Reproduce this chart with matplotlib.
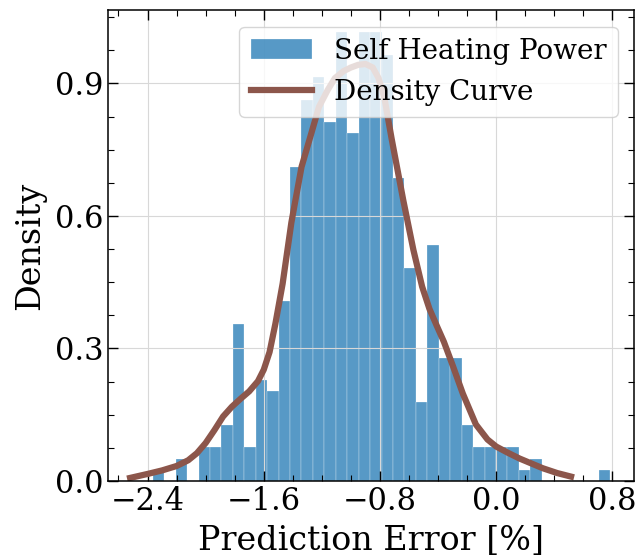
import numpy as np
import matplotlib.pyplot as plt
from matplotlib.ticker import MultipleLocator

plt.rcParams["font.family"] = "DejaVu Serif"

# histogram: 40 bins, counts (500 samples)
bin_edges = np.linspace(-2.364, 0.786, 41)
counts = [1, 0, 2, 0, 3, 3, 5, 14, 3, 9,
          8, 16, 28, 34, 36, 32, 40, 31, 40, 40,
          38, 27, 19, 7, 21, 11, 11, 5, 3, 3,
          3, 3, 1, 2, 0, 0, 0, 0, 0, 1]
bin_centers = (bin_edges[:-1] + bin_edges[1:]) / 2

# density curve points
curve_x = [-2.52, -2.40, -2.30, -2.20, -2.12, -2.06, -2.00, -1.94, -1.88, -1.82,
           -1.76, -1.70, -1.64, -1.60, -1.56, -1.52, -1.47, -1.41, -1.34, -1.27,
           -1.22, -1.16, -1.11, -1.05, -1.00, -0.95, -0.90, -0.85, -0.81, -0.77,
           -0.72, -0.64, -0.57, -0.51, -0.46, -0.41, -0.36, -0.30, -0.23, -0.14,
           -0.06, 0.00, 0.08, 0.16, 0.24, 0.32, 0.42, 0.515]
curve_y = [0.007, 0.016, 0.024, 0.034, 0.047, 0.063, 0.086, 0.115, 0.146, 0.168,
           0.186, 0.203, 0.226, 0.252, 0.292, 0.356, 0.447, 0.585, 0.711, 0.790,
           0.847, 0.885, 0.912, 0.928, 0.936, 0.942, 0.944, 0.936, 0.912, 0.868,
           0.775, 0.636, 0.523, 0.440, 0.390, 0.352, 0.315, 0.262, 0.198, 0.128,
           0.094, 0.078, 0.064, 0.051, 0.040, 0.029, 0.018, 0.010]

fig = plt.figure(figsize=(6.4, 5.59), dpi=100)
ax = fig.add_axes([0.169, 0.1395, 0.822, 0.8425])

_, _, patches = ax.hist(bin_centers, bins=bin_edges, weights=counts, density=True,
                        color="tab:blue", alpha=0.75, edgecolor="white", linewidth=0.25,
                        label="Self Heating Power")
line, = ax.plot(curve_x, curve_y, color="#8c564b", lw=4.5, label="Density Curve")

ax.set_xlim(-2.671, 0.95)
ax.set_ylim(0, 1.066)
ax.xaxis.set_major_locator(MultipleLocator(0.8))
ax.xaxis.set_minor_locator(MultipleLocator(0.2))
ax.yaxis.set_major_locator(MultipleLocator(0.3))
ax.yaxis.set_minor_locator(MultipleLocator(0.075))
ax.tick_params(which="both", direction="in", top=True, right=True, labelsize=22)
ax.tick_params(which="major", length=7, width=1.0)
ax.tick_params(which="minor", length=4, width=0.8)
for s in ax.spines.values():
    s.set_linewidth(1.1)

ax.grid(True, which="major", color="#d8d8d8", lw=0.8)
ax.set_xlabel("Prediction Error [%]", fontsize=24, labelpad=6)
ax.set_ylabel("Density", fontsize=24, labelpad=6)

ax.legend(handles=[patches[0], line], loc="upper right", fontsize=20,
          handlelength=2.2, framealpha=0.8, borderaxespad=0.6)

fig.savefig("out.png", dpi=100)
